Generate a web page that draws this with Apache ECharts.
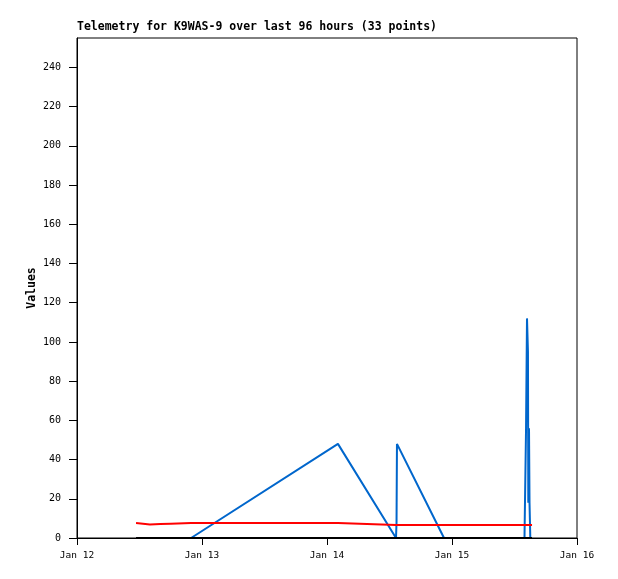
<!DOCTYPE html>
<html>
<head>
<meta charset="utf-8">
<script src="https://cdn.jsdelivr.net/npm/echarts@6/dist/echarts.min.js"></script>
<style>
html,body{margin:0;padding:0;background:#fff;}
#chart{width:618px;height:579px;}
</style>
</head>
<body>
<div id="chart"></div>
<script>
const titleText = 'Telemetry for K9WAS-9 over last 96 hours (33 points)';
const yAxisName = 'Values';
const xTickLabels = ['Jan 12', 'Jan 13', 'Jan 14', 'Jan 15', 'Jan 16'];
const yTicks = [0, 20, 40, 60, 80, 100, 120, 140, 160, 180, 200, 220, 240];

const times = [
  '2025-01-12 11:20', '2025-01-12 11:31', '2025-01-12 14:00', '2025-01-12 16:00',
  '2025-01-12 18:00', '2025-01-12 21:54', '2025-01-14 02:06', '2025-01-14 13:15',
  '2025-01-14 13:21', '2025-01-14 13:26', '2025-01-14 22:28', '2025-01-15 00:00',
  '2025-01-15 01:30', '2025-01-15 03:00', '2025-01-15 04:30', '2025-01-15 06:00',
  '2025-01-15 07:30', '2025-01-15 09:00', '2025-01-15 10:30', '2025-01-15 12:00',
  '2025-01-15 13:00', '2025-01-15 13:30', '2025-01-15 13:55', '2025-01-15 14:07',
  '2025-01-15 14:13', '2025-01-15 14:24', '2025-01-15 14:35', '2025-01-15 14:39',
  '2025-01-15 14:47', '2025-01-15 14:53', '2025-01-15 15:02', '2025-01-15 15:10',
  '2025-01-15 15:22'
];
const blueValues = [
  0, 0, 0, 0,
  0, 0, 48, 0,
  8, 48, 0, 0,
  0, 0, 0, 0,
  0, 0, 0, 0,
  0, 0, 0, 0,
  56, 112, 95, 18,
  56, 18, 0, 0,
  0
];
const redValues = [
  7.6, 6.6, 6.9, 7.1,
  7.3, 7.6, 7.6, 6.6,
  6.6, 6.6, 6.6, 6.6,
  6.6, 6.6, 6.6, 6.6,
  6.6, 6.6, 6.6, 6.6,
  6.6, 6.6, 6.6, 6.6,
  6.6, 6.6, 6.6, 6.6,
  6.6, 6.6, 6.6, 6.6,
  6.6
];
const blackValues = times.map(() => 0);

function parseT(s) {
  const [d, t] = s.split(' ');
  const [Y, M, D] = d.split('-').map(Number);
  const [h, m] = t.split(':').map(Number);
  return Date.UTC(Y, M - 1, D, h, m);
}
const ts = times.map(parseT);
const DAY = 86400000;
const xMin = Date.UTC(2025, 0, 12);
const xMax = Date.UTC(2025, 0, 16);

const mono = 'DejaVu Sans Mono';
const chart = echarts.init(document.getElementById('chart'), null, {renderer: 'canvas'});
chart.setOption({
  animation: false,
  backgroundColor: '#ffffff',
  title: {
    text: titleText, left: 77, top: 21, padding: 0,
    textStyle: {fontFamily: mono, fontWeight: 'bold', fontSize: 11.5, color: '#000'}
  },
  grid: {left: 77, right: 41, top: 38, bottom: 41, show: true, borderColor: '#000', borderWidth: 1, backgroundColor: 'transparent'},
  xAxis: {
    type: 'value', min: xMin, max: xMax, interval: DAY,
    axisLine: {show: true, lineStyle: {color: '#000', width: 1}},
    axisTick: {show: true, inside: false, length: 7, lineStyle: {color: '#000'}},
    splitLine: {show: false},
    axisLabel: {
      margin: 13, color: '#000', fontFamily: mono, fontSize: 9.5,
      formatter: v => xTickLabels[Math.round((v - xMin) / DAY)]
    }
  },
  yAxis: {
    type: 'value', min: 0, max: 255, interval: 20,
    name: yAxisName, nameLocation: 'middle', nameGap: 39, nameRotate: 90,
    nameMoveOverlap: false,
    nameTextStyle: {fontFamily: mono, fontWeight: 'bold', fontSize: 11.5, color: '#000'},
    axisLine: {show: true, lineStyle: {color: '#000', width: 1}},
    axisTick: {show: true, inside: false, length: 8, lineStyle: {color: '#000'}},
    splitLine: {show: false},
    axisLabel: {
      margin: 16, color: '#000', fontFamily: mono, fontSize: 10,
      showMaxLabel: false,
      formatter: v => (yTicks.indexOf(v) >= 0 ? String(v) : '')
    }
  },
  series: [
    {type: 'line', data: ts.map((t, i) => [t, blueValues[i]]), showSymbol: false, lineStyle: {color: '#0066cc', width: 2}, itemStyle: {color: '#0066cc'}, z: 2},
    {type: 'line', data: ts.map((t, i) => [t, redValues[i]]), showSymbol: false, lineStyle: {color: '#ff0000', width: 2}, itemStyle: {color: '#ff0000'}, z: 3},
    {type: 'line', data: ts.map((t, i) => [t, blackValues[i]]), showSymbol: false, lineStyle: {color: '#000000', width: 2}, itemStyle: {color: '#000'}, z: 4}
  ]
});
</script>
</body>
</html>
